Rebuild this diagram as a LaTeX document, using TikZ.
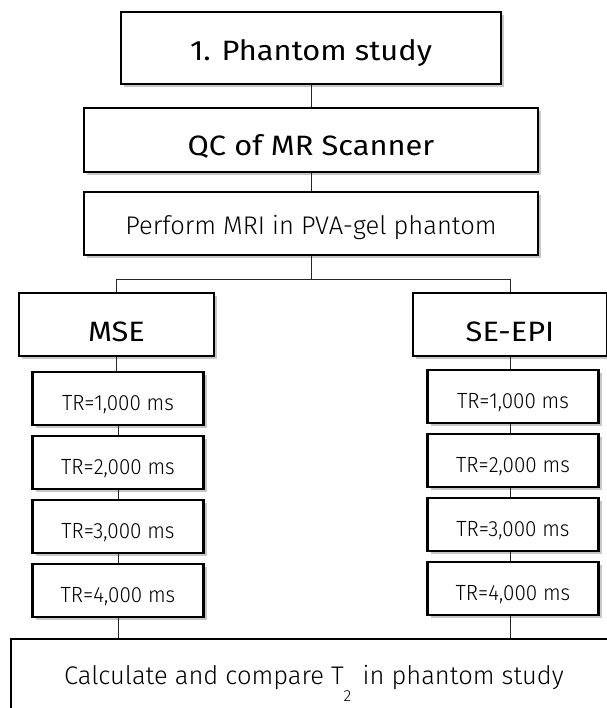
\documentclass[tikz,border=0pt]{standalone}
\usepackage{fontspec}
\setmainfont{Fira Sans Light}[BoldFont={Fira Sans}, BoldFeatures={FakeStretch=1.1}]
\newfontfamily\trfont{Fira Sans Light}[FakeStretch=0.94]
\usetikzlibrary{calc}
\usetikzlibrary{shadows}
\tikzset{
  box/.style={draw, line width=2.4pt, fill=white, inner sep=0pt, align=center,
    text depth=0pt, drop shadow={shadow xshift=3pt, shadow yshift=-3pt, fill=black, opacity=0.22}},
  headbox/.style={box, text height=31pt, font=\fontsize{28}{32}\selectfont\bfseries},
  stepbox/.style={box, text height=23pt, font=\fontsize{25.5}{30}\selectfont},
  trbox/.style={box, minimum width=171, minimum height=53, text height=23pt,
    font=\trfont\fontsize{22}{26}\selectfont},
  link/.style={line width=1pt, black!85},
}
\newcommand{\Sub}[1]{\raisebox{-17pt}{\fontsize{16}{16}\selectfont #1}}

\begin{document}
\begin{tikzpicture}[x=1pt, y=-1pt]
\useasboundingbox (0,0) rectangle (606,708);

%%%%%%%%%%%%%%%%%%%%%%%%%%%%%%%%%%%%%%%%%%%%%%%%%%%%%%%%%%%%%% top
\node[headbox, minimum width=380, minimum height=72, text height=25pt] (phantom) at (311,48) {1. Phantom study};
\node[headbox, minimum width=454, minimum height=64] (qc) at (311,140) {QC of MR Scanner};
\node[stepbox, minimum width=454, minimum height=63] (perform) at (311,223.5) {Perform MRI in PVA-gel phantom};
\coordinate (split) at (311,279);

%%%%%%%%%%%%%%%%%%%%%%%%%%%%%%%%%%%%%%%%%%%%%%%%%%%%%%%%%%%%%% sequences
\node[headbox, minimum width=195, minimum height=63, text height=34pt] (mse) at (116.5,324.5) {MSE};
\node[headbox, minimum width=194, minimum height=63, text height=34pt] (seepi) at (510,324.5) {SE-EPI};

\foreach \i/\tr in {1/1,2/2,3/3,4/4}{
  \node[trbox] (ml\i) at (118, {398.5+64*(\i-1)}) {TR=\tr,000 ms};
  \node[trbox] (mr\i) at (513, {396.5+64*(\i-1)}) {TR=\tr,000 ms};
}

%%%%%%%%%%%%%%%%%%%%%%%%%%%%%%%%%%%%%%%%%%%%%%%%%%%%%%%%%%%%%% bottom
\node[stepbox, minimum width=606, minimum height=73, text height=18pt] (calc) at (314,675.5)
  {Calculate and compare T\Sub{2}\, in phantom study};

%%%%%%%%%%%%%%%%%%%%%%%%%%%%%%%%%%%%%%%%%%%%%%%%%%%%%%%%%%%%%% links
\draw[link] (phantom) -- (qc);
\draw[link] (qc) -- (perform);
\draw[link] (perform) -- (split);
\draw[link] (split) -| (mse.north);
\draw[link] (split) -| (seepi.north);
\draw[link] (mse.south) -- (mse.south |- ml1.north);
\draw[link] (seepi.south) -- (seepi.south |- mr1.north);
\foreach \i/\j in {1/2,2/3,3/4}{
  \draw[link] (ml\i.south) -- (ml\i.south |- ml\j.north);
  \draw[link] (seepi.south |- mr\i.south) -- (seepi.south |- mr\j.north);
}
\draw[link] (ml4.south) -- (ml4.south |- calc.north);
\draw[link] (seepi.south |- mr4.south) -- (seepi.south |- calc.north);

\end{tikzpicture}
\end{document}
